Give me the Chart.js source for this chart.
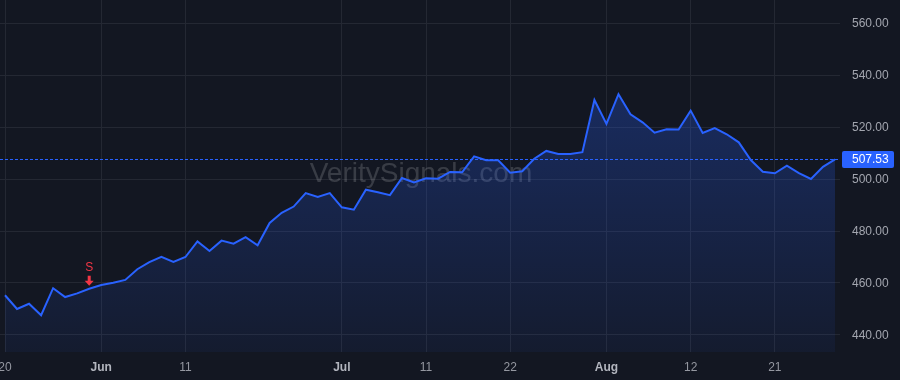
<!DOCTYPE html>
<html>
<head>
<meta charset="utf-8">
<script src="https://cdn.jsdelivr.net/npm/chart.js@4.4.1/dist/chart.umd.min.js"></script>
<style>
  html, body { margin: 0; padding: 0; background: #131722; }
  #wrap { width: 900px; height: 380px; position: relative; }
</style>
</head>
<body>
<div id="wrap"><canvas id="price-chart" width="900" height="380"></canvas></div>
<script>
// trading days, May 20 - Aug 28
const dates = [
  "May 20", "May 21", "May 22", "May 23", "May 27", "May 28", "May 29", "May 30",
  "Jun 2", "Jun 3", "Jun 4", "Jun 5", "Jun 6", "Jun 9", "Jun 10", "Jun 11", "Jun 12", "Jun 13",
  "Jun 16", "Jun 17", "Jun 18", "Jun 20", "Jun 23", "Jun 24", "Jun 25", "Jun 26", "Jun 27", "Jun 30",
  "Jul 1", "Jul 2", "Jul 3", "Jul 7", "Jul 8", "Jul 9", "Jul 10", "Jul 11", "Jul 14", "Jul 15",
  "Jul 16", "Jul 17", "Jul 18", "Jul 21", "Jul 22", "Jul 23", "Jul 24", "Jul 25", "Jul 28", "Jul 29",
  "Jul 30", "Jul 31", "Aug 1", "Aug 4", "Aug 5", "Aug 6", "Aug 7", "Aug 8", "Aug 11", "Aug 12",
  "Aug 13", "Aug 14", "Aug 15", "Aug 18", "Aug 19", "Aug 20", "Aug 21", "Aug 22", "Aug 25", "Aug 26",
  "Aug 27", "Aug 28",
];

const closes = [
  455.3, 450.0, 452.0, 447.6, 458.0, 454.6, 456.0, 457.8,
  459.2, 460.1, 461.2, 465.3, 468.0, 470.1, 468.1, 470.0, 476.0, 472.3,
  476.3, 475.1, 477.6, 474.5, 483.1, 487.0, 489.4, 494.6, 493.1, 494.6,
  489.1, 488.2, 495.9, 494.9, 493.8, 500.4, 498.7, 500.3, 500.1, 502.7,
  502.6, 508.7, 507.2, 507.2, 502.4, 503.0, 507.8, 510.8, 509.6, 509.6,
  510.3, 530.4, 521.2, 532.6, 524.9, 521.8, 517.8, 519.1, 519.0, 526.3,
  517.7, 519.6, 517.2, 514.1, 507.3, 502.8, 502.2, 505.1, 502.3, 500.0,
  504.7, 507.53,
];

const tickDates = ["May 20", "Jun 2", "Jun 11", "Jul 1", "Jul 11", "Jul 22", "Aug 1", "Aug 12", "Aug 21"];
const tickLabels = ["20", "Jun", "11", "Jul", "11", "22", "Aug", "12", "21"];
const monthLabels = ["Jun", "Jul", "Aug"];

const priceTicks = [440, 460, 480, 500, 520, 540, 560];

const signals = [{ date: "May 30", label: "S" }];

const BLUE = "#2962ff";
const BG = "#131722";
const GRID = "#242833";

const tickIndex = tickDates.map((d) => dates.indexOf(d));

const bgPlugin = {
  id: "bg",
  beforeDraw(chart) {
    const { ctx, width, height } = chart;
    ctx.save();
    ctx.fillStyle = BG;
    ctx.fillRect(0, 0, width, height);
    ctx.restore();
  },
};

const watermarkPlugin = {
  id: "watermark",
  beforeDatasetsDraw(chart) {
    const { ctx } = chart;
    ctx.save();
    ctx.font = "28px 'Liberation Sans', Arial, sans-serif";
    ctx.fillStyle = "rgba(255,255,255,0.16)";
    ctx.textAlign = "center";
    ctx.textBaseline = "alphabetic";
    ctx.fillText("VeritySignals.com", 421, 182);
    ctx.restore();
  },
};

const lastPricePlugin = {
  id: "lastPrice",
  afterDatasetsDraw(chart) {
    const { ctx, chartArea, scales } = chart;
    const last = closes[closes.length - 1];
    const y = Math.round(scales.y.getPixelForValue(last)) + 0.5;
    ctx.save();
    ctx.strokeStyle = BLUE;
    ctx.lineWidth = 1;
    ctx.setLineDash([3, 2]);
    ctx.beginPath();
    ctx.moveTo(chartArea.left, y);
    ctx.lineTo(chartArea.right, y);
    ctx.stroke();
    ctx.setLineDash([]);

    // label box on the price scale
    const bx = chartArea.right + 2, bw = 52, bh = 17;
    ctx.fillStyle = BLUE;
    ctx.beginPath();
    ctx.roundRect(bx, y - bh / 2, bw, bh, 2);
    ctx.fill();
    ctx.fillStyle = "#ffffff";
    ctx.font = "12px 'Liberation Sans', Arial, sans-serif";
    ctx.textBaseline = "middle";
    ctx.textAlign = "left";
    ctx.fillText(last.toFixed(2), chartArea.right + 12, y + 0.5);

    // sell markers
    signals.forEach((s) => {
      const i = dates.indexOf(s.date);
      const px = scales.x.getPixelForValue(i);
      const py = scales.y.getPixelForValue(closes[i]);
      ctx.fillStyle = "#f23645";
      ctx.font = "12px 'Liberation Sans', Arial, sans-serif";
      ctx.textAlign = "center";
      ctx.textBaseline = "middle";
      ctx.fillText(s.label, px, py - 21);
      const tip = py - 3;
      ctx.fillRect(px - 1.5, tip - 10, 3, 6);
      ctx.beginPath();
      ctx.moveTo(px - 4.5, tip - 5);
      ctx.lineTo(px + 4.5, tip - 5);
      ctx.lineTo(px, tip);
      ctx.closePath();
      ctx.fill();
    });
    ctx.restore();
  },
};

const chart = new Chart(document.getElementById("price-chart"), {
  type: "line",
  data: {
    datasets: [{
      label: "Close",
      data: closes.map((v, i) => ({ x: i, y: v })),
      borderColor: BLUE,
      borderWidth: 2,
      pointRadius: 0,
      tension: 0,
      fill: "start",
      backgroundColor: (c) => {
        const area = c.chart.chartArea;
        if (!area) return "rgba(41,98,255,0.15)";
        const g = c.chart.ctx.createLinearGradient(0, 90, 0, area.bottom);
        g.addColorStop(0, "rgba(41,98,255,0.28)");
        g.addColorStop(1, "rgba(41,98,255,0.06)");
        return g;
      },
    }],
  },
  options: {
    responsive: false,
    animation: false,
    layout: { padding: 0 },
    plugins: { legend: { display: false }, tooltip: { enabled: false } },
    scales: {
      x: {
        type: "linear",
        min: -0.416,
        max: 69.416,
        afterBuildTicks: (s) => { s.ticks = tickIndex.map((v) => ({ value: v })); },
        afterFit: (s) => { s.height = 28; s.paddingLeft = 0; s.paddingRight = 0; },
        ticks: {
          autoSkip: false,
          maxRotation: 0,
          padding: 8,
          callback: (v) => tickLabels[tickIndex.indexOf(v)],
          color: (c) => monthLabels.includes(tickLabels[c.index]) ? "#b2b5be" : "#9598a1",
          font: (c) => ({
            family: "'Liberation Sans', Arial, sans-serif",
            size: 12,
            weight: monthLabels.includes(tickLabels[c.index]) ? "bold" : "normal",
          }),
        },
        grid: { color: GRID, drawTicks: false },
        border: { display: false },
      },
      y: {
        position: "right",
        min: 433.46,
        max: 568.85,
        afterBuildTicks: (s) => { s.ticks = priceTicks.map((v) => ({ value: v })); },
        afterFit: (s) => { s.width = 60; s.paddingTop = 0; s.paddingBottom = 0; },
        ticks: {
          padding: 12,
          labelOffset: 1,
          color: "#a3a6af",
          font: { family: "'Liberation Sans', Arial, sans-serif", size: 12 },
          callback: (v) => Number(v).toFixed(2),
        },
        grid: { color: GRID, drawTicks: false },
        border: { display: false },
      },
    },
  },
  plugins: [bgPlugin, watermarkPlugin, lastPricePlugin],
});
</script>
</body>
</html>
